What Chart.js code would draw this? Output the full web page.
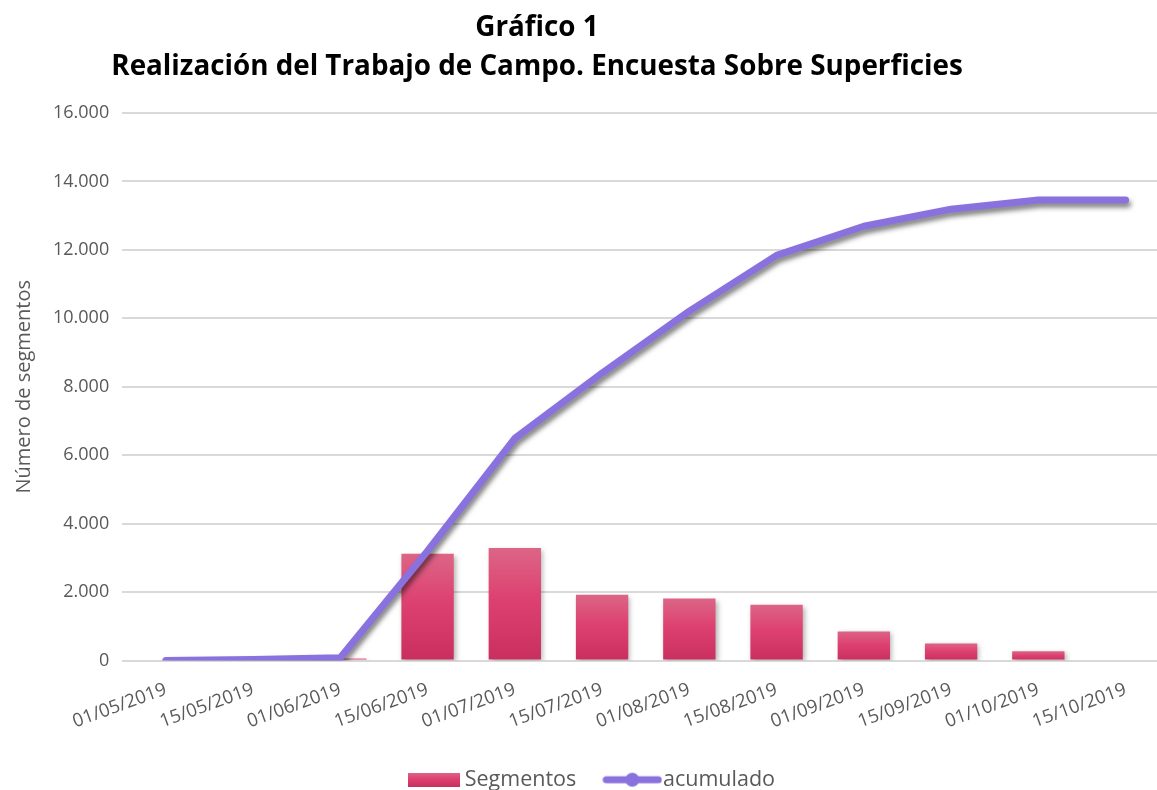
<!DOCTYPE html>
<html>
<head>
<meta charset="utf-8">
<script src="https://cdn.jsdelivr.net/npm/chart.js@4"></script>
<style>
  html, body { margin: 0; padding: 0; background: #fff; overflow: hidden; }
  #wrap { width: 1157px; height: 790px; }
</style>
</head>
<body>
<div id="wrap"><canvas id="chart" width="1157" height="790"></canvas></div>
<script>
// fechas del eje X
var categories = ['01/05/2019', '15/05/2019', '01/06/2019', '15/06/2019', '01/07/2019', '15/07/2019',
  '01/08/2019', '15/08/2019', '01/09/2019', '15/09/2019', '01/10/2019', '15/10/2019'];
// segmentos realizados en cada quincena
var segmentos = [0, 0, 60, 3120, 3290, 1920, 1810, 1630, 850, 500, 270, 0];
// total acumulado
var acumulado = [0, 30, 80, 3200, 6490, 8400, 10210, 11840, 12690, 13190, 13460, 13460];
var titleLines = ['Gráfico 1', 'Realización del Trabajo de Campo. Encuesta Sobre Superficies'];

var FONT = "'Open Sans', sans-serif";
var GREY = '#595959';
var LINE_COLOR = '#8a72de';

function fmt(v) {
  return String(v).replace(/\B(?=(\d{3})+(?!\d))/g, '.');
}

function barGradient(ctx, top, bottom) {
  var g = ctx.createLinearGradient(0, top, 0, bottom);
  g.addColorStop(0, '#dc6586');
  g.addColorStop(0.45, '#dd4171');
  g.addColorStop(1, '#c92f5e');
  return g;
}

// little pictures for the legend
function barSwatch() {
  var c = document.createElement('canvas');
  c.width = 52; c.height = 14;
  var x = c.getContext('2d');
  x.fillStyle = barGradient(x, 0, 14);
  x.fillRect(0, 0, 52, 14);
  return c;
}
function lineSwatch() {
  var c = document.createElement('canvas');
  c.width = 60; c.height = 16;
  var x = c.getContext('2d');
  x.strokeStyle = LINE_COLOR;
  x.lineWidth = 7;
  x.lineCap = 'round';
  x.beginPath(); x.moveTo(4, 8); x.lineTo(56, 8); x.stroke();
  x.fillStyle = LINE_COLOR;
  x.beginPath(); x.arc(30, 8, 7, 0, Math.PI * 2); x.fill();
  return c;
}

var shadowPlugin = {
  id: 'shadow',
  beforeDatasetDraw: function (chart, args) {
    var ctx = chart.ctx;
    ctx.save();
    if (args.meta.type === 'line') {
      ctx.shadowColor = 'rgba(0,0,0,0.5)';
      ctx.shadowBlur = 5;
      ctx.shadowOffsetX = 2;
      ctx.shadowOffsetY = 4;
    } else {
      ctx.shadowColor = 'rgba(0,0,0,0.3)';
      ctx.shadowBlur = 5;
      ctx.shadowOffsetX = 2;
      ctx.shadowOffsetY = 2;
    }
  },
  afterDatasetDraw: function (chart) {
    chart.ctx.restore();
  }
};

var titlePlugin = {
  id: 'twoLineTitle',
  afterLayout: function (chart) {
    // the legend sits a little right of centre in the original
    if (chart.legend) {
      chart.legend.left += 10;
      chart.legend.right += 10;
    }
  },
  afterDraw: function (chart) {
    var ctx = chart.ctx;
    ctx.save();
    ctx.fillStyle = '#000';
    ctx.font = 'bold 27.8px ' + FONT;
    ctx.textAlign = 'center';
    ctx.textBaseline = 'middle';
    ctx.fillText(titleLines[0], 537, 28);
    ctx.fillText(titleLines[1], 537, 67);
    ctx.restore();
  }
};

new Chart(document.getElementById('chart'), {
  data: {
    datasets: [
      {
        type: 'bar',
        label: 'Segmentos',
        data: segmentos.map(function (v, i) { return { x: i, y: v }; }),
        order: 1,
        barPercentage: 0.6,
        categoryPercentage: 1,
        backgroundColor: function (c) {
          var chart = c.chart;
          if (!chart.chartArea || c.parsed == null) return '#dd4171';
          var ys = chart.scales.y;
          var top = ys.getPixelForValue(c.parsed.y);
          var bottom = ys.getPixelForValue(0);
          if (bottom - top < 1) return '#c92f5e';
          return barGradient(chart.ctx, top, bottom);
        }
      },
      {
        type: 'line',
        label: 'acumulado',
        data: acumulado.map(function (v, i) { return { x: i, y: v }; }),
        order: 0,
        borderColor: LINE_COLOR,
        backgroundColor: LINE_COLOR,
        borderWidth: 7,
        borderCapStyle: 'round',
        borderJoinStyle: 'round',
        pointRadius: 0,
        tension: 0
      }
    ]
  },
  options: {
    responsive: false,
    animation: false,
    layout: { padding: { top: 113, left: 12, right: 0, bottom: -10.5 } },
    plugins: {
      title: { display: false },
      tooltip: { enabled: false },
      legend: {
        position: 'bottom',
        labels: {
          usePointStyle: true,
          pointStyleWidth: 40,
          padding: 36,
          color: GREY,
          font: { family: FONT, size: 21.5 },
          generateLabels: function (chart) {
            return chart.data.datasets.map(function (ds, i) {
              return {
                text: ds.label,
                datasetIndex: i,
                pointStyle: i === 0 ? barSwatch() : lineSwatch(),
                fontColor: GREY,
                lineWidth: 0,
                strokeStyle: 'transparent',
                fillStyle: 'transparent'
              };
            });
          }
        }
      }
    },
    scales: {
      x: {
        type: 'linear',
        offset: false,
        min: -0.5,
        max: -0.5 + 11.86,
        grid: { display: false, drawTicks: false, offset: false },
        border: { display: false },
        afterBuildTicks: function (scale) {
          scale.ticks = categories.map(function (c, i) { return { value: i }; });
        },
        afterFit: function (scale) {
          scale.paddingLeft = 0;
          scale.paddingRight = 0;
          scale.height = 72.5;
        },
        ticks: {
          minRotation: 20,
          maxRotation: 20,
          autoSkip: false,
          padding: 18,
          color: GREY,
          font: { family: FONT, size: 18.5 },
          callback: function (v) { return categories[v]; }
        }
      },
      y: {
        min: 0,
        max: 16000,
        border: { display: false },
        grid: { color: '#d9d9d9', lineWidth: 2, drawTicks: false },
        ticks: {
          stepSize: 2000,
          padding: 13,
          color: GREY,
          font: { family: FONT, size: 18 },
          callback: function (v) { return fmt(v); }
        },
        title: {
          display: true,
          text: 'Número de segmentos',
          color: GREY,
          font: { family: FONT, size: 20 },
          padding: { top: 0, bottom: 4 }
        }
      }
    }
  },
  plugins: [shadowPlugin, titlePlugin]
});
</script>
</body>
</html>
